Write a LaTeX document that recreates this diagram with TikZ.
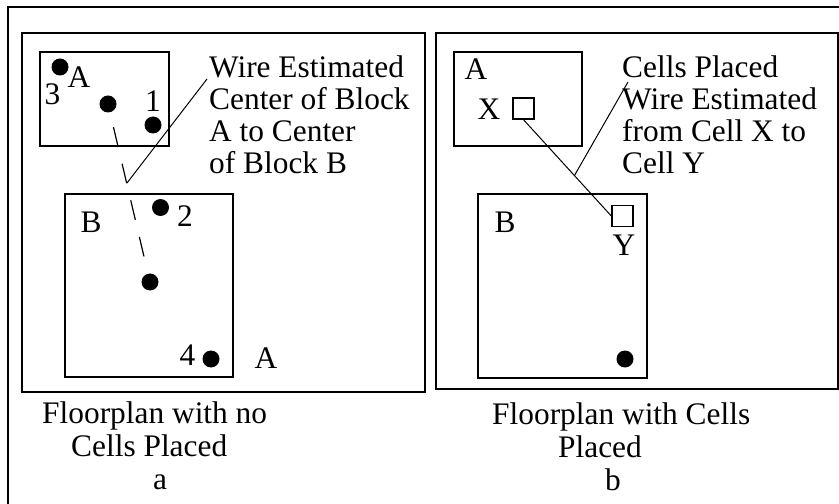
\documentclass[tikz,border=0pt]{standalone}
\usepackage{fontspec}
\setmainfont{Liberation Serif}
\usetikzlibrary{positioning, calc}

\begin{document}
\begin{tikzpicture}[x=1bp, y=-1bp]
    \tikzstyle{frame} = [line width=2bp]
    \tikzstyle{block} = [line width=1.4bp]
    \tikzstyle{cell} = [circle, fill=black, inner sep=0pt, minimum size=17bp]
    \tikzstyle{placed} = [rectangle, draw, line width=1.4bp, inner sep=0pt, minimum size=21bp]
    \tikzstyle{lbl} = [inner sep=0pt, anchor=base, font=\fontsize{31.5}{32}\selectfont]
    \tikzstyle{note} = [inner sep=0pt, anchor=north west, align=left, font=\fontsize{31.5}{32}\selectfont]
    \tikzstyle{caption} = [inner sep=0pt, anchor=north west, align=left, font=\fontsize{31.5}{33}\selectfont]
    \tikzstyle{leader} = [line width=1bp]
    \tikzstyle{estwire} = [line width=1.2bp, dash pattern=on 20bp off 17.6bp, dash phase=22.5bp]

    \useasboundingbox (0,0) rectangle (839,504);
    \clip (0,0) rectangle (839,504);

    % outer frame and the two panels
    \draw [frame] (8,7) rectangle (860,530);
    \draw [frame] (22,33) rectangle (425,392);
    \draw [frame] (436,33) rectangle (838,389);

    % panel a: blocks without placed cells
    \draw [block] (40,52) rectangle (169,146);
    \draw [block] (65,194) rectangle (233,377);

    \node [cell] (c3) at (60,67) {};
    \node [cell] (ca) at (108,104) {};
    \node [cell] (c1) at (153,125) {};
    \node [cell] (c2) at (160.5,207.5) {};
    \node [cell] (cb) at (150,282) {};
    \node [cell] (c4) at (211,359) {};

    \node [lbl] (n3) at (52.5,105) {3};
    \node [lbl] (blkA) at (79,88) {A};
    \node [lbl] (n1) at (153,112) {1};
    \node [lbl] (n2) at (185,227) {2};
    \node [lbl] (blkB) at (91,233) {B};
    \node [lbl] (n4) at (187.5,365) {4};
    \node [lbl] (outA) at (266,368) {A};

    \draw [estwire] (ca) -- (cb);

    \node [note] (noteA) at (209,55.5) {Wire Estimated\\Center of Block\\A to Center\\of Block B};
    \coordinate (tailA) at ($(noteA.north west)+(-2,23.5)$);
    \coordinate (tipA) at (127,183);
    \draw [leader] (tailA) -- (tipA);

    \node [caption] (capA) at (42,401.5) {Floorplan with no\\\hspace*{29bp}Cells Placed\\\hspace*{111bp}a};

    % panel b: blocks with placed cells
    \draw [block] (454,52) rectangle (582,146);
    \draw [block] (478,194) rectangle (647,378);

    \node [placed] (X) at (523.5,108.5) {};
    \node [placed] (Y) at (622.5,216) {};
    \node [cell] (cy) at (625,359) {};

    \node [lbl] (blkA2) at (476,80) {A};
    \node [lbl] (lX) at (489,120) {X};
    \node [lbl] (blkB2) at (505,233) {B};
    \node [lbl] (lY) at (624,256) {Y};

    \draw [leader] (X.south) -- (Y.west);

    \node [note] (noteB) at (622,55.5) {Cells Placed\\Wire Estimated\\from Cell X to\\Cell Y};
    \coordinate (tailB) at ($(noteB.north west)+(6,26.5)$);
    \coordinate (tipB) at ($(X.south)!0.58!(Y.west)$);
    \draw [leader] (tailB) -- (tipB);

    \node [caption] (capB) at (492,402.5) {Floorplan with Cells\\\hspace*{66bp}Placed\\\hspace*{113bp}b};
\end{tikzpicture}
\end{document}
